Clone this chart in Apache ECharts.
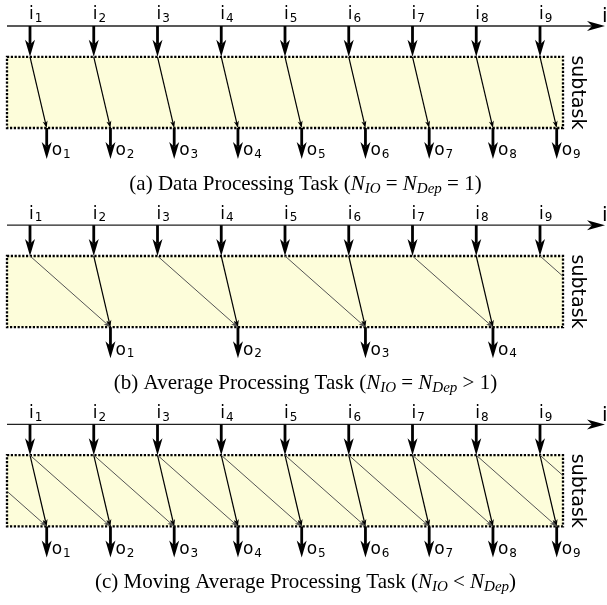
<!DOCTYPE html>
<html><head><meta charset="utf-8">
<script src="https://cdn.jsdelivr.net/npm/echarts@6/dist/echarts.min.js"></script>
<style>html,body{margin:0;padding:0;background:#fff}#c{width:607px;height:605px}</style>
</head><body><div id="c"></div>
<script>
// ================= DATA =================
// input slots on the time axis and their subscripts
const inputSlots  = [1, 2, 3, 4, 5, 6, 7, 8, 9];
const inputLabels = ['1', '2', '3', '4', '5', '6', '7', '8', '9'];
// output slots (input slot after which each output is produced)
const outputsA = [1, 2, 3, 4, 5, 6, 7, 8, 9];
const outputsB = [2, 4, 6, 8];
const outputsC = [1, 2, 3, 4, 5, 6, 7, 8, 9];
// dependencies: [input slot, output slot, 1 = direct / 0 = carried]
const depsA = [[1,1,1],[2,2,1],[3,3,1],[4,4,1],[5,5,1],[6,6,1],[7,7,1],[8,8,1],[9,9,1]];
const depsB = [[1,2,0],[2,2,1],[3,4,0],[4,4,1],[5,6,0],[6,6,1],[7,8,0],[8,8,1],[9,10,0]];
const depsC = [[0,1,0],[1,1,1],[1,2,0],[2,2,1],[2,3,0],[3,3,1],[3,4,0],[4,4,1],[4,5,0],
               [5,5,1],[5,6,0],[6,6,1],[6,7,0],[7,7,1],[7,8,0],[8,8,1],[8,9,0],[9,9,1],[9,10,0]];
const axisLabel = 'i';
const boxLabel = 'subtask';
// captions as [style, text] segments (n = italic, s = italic subscript)
const captionA = [['t','(a) Data Processing Task ('],['n','N'],['s','IO'],['t',' = '],['n','N'],['s','Dep'],['t',' = 1)']];
const captionB = [['t','(b) Average Processing Task ('],['n','N'],['s','IO'],['t',' = '],['n','N'],['s','Dep'],['t',' > 1)']];
const captionC = [['t','(c) Moving Average Processing Task ('],['n','N'],['s','IO'],['t',' < '],['n','N'],['s','Dep'],['t',')']];

// ================= LAYOUT =================
const SLOT_PX = 63.75, FIRST_PX = 30, W = 607, H = 605;
const X_MIN = 1 - FIRST_PX / SLOT_PX, X_MAX = X_MIN + W / SLOT_PX;
const OUT_SHIFT = 16.7 / SLOT_PX;
const BOX_L = 1 - 23 / SLOT_PX, BOX_R = 9 + 23 / SLOT_PX, AXIS_TIP = 9 + 65 / SLOT_PX;
const PANEL_STEP = 199.2, AXIS_Y0 = 26;
const DY = { boxTop: 30.8, boxBot: 102, outTip: 133, inLabel: -11, outLabel: 125, caption: 158 };
const panels = [
  { outputs: outputsA, deps: depsA, caption: captionA },
  { outputs: outputsB, deps: depsB, caption: captionB },
  { outputs: outputsC, deps: depsC, caption: captionC }
];

const SANS = '"DejaVu Sans", sans-serif';
const SERIF = '"Liberation Serif", "Times New Roman", serif';
const labelRich = {
  m: { fontFamily: SANS, fontSize: 17, fill: '#000', verticalAlign: 'middle' },
  d: { fontFamily: SANS, fontSize: 12, fill: '#000', verticalAlign: 'middle', padding: [8, 0, 0, 1] }
};
const capRich = {
  t: { fontFamily: SERIF, fontSize: 21, fill: '#000', verticalAlign: 'middle' },
  n: { fontFamily: SERIF, fontSize: 21, fontStyle: 'italic', fill: '#000', verticalAlign: 'middle' },
  s: { fontFamily: SERIF, fontSize: 15, fontStyle: 'italic', fill: '#000', verticalAlign: 'middle', padding: [10, 0, 0, 0] }
};

// build mark list
const marks = [];
panels.forEach((P, p) => {
  marks.push({ kind: 'box', p });
  marks.push({ kind: 'axis', p });
  P.deps.forEach(d => marks.push({ kind: 'dep', p, from: d[0], to: d[1], strong: d[2] }));
  inputSlots.forEach((s, i) => marks.push({ kind: 'in', p, slot: s, label: inputLabels[i] }));
  P.outputs.forEach((s, i) => marks.push({ kind: 'out', p, slot: s, label: String(i + 1) }));
  marks.push({ kind: 'sub', p });
  marks.push({ kind: 'cap', p });
});

function head(tip, from, len, wid, color) {
  let dx = tip[0] - from[0], dy = tip[1] - from[1];
  const L = Math.hypot(dx, dy); dx /= L; dy /= L;
  const px = -dy, py = dx;
  const bx = tip[0] - dx * len, by = tip[1] - dy * len;
  const nx = tip[0] - dx * len * 0.72, ny = tip[1] - dy * len * 0.72;
  return {
    shape: { type: 'polygon', shape: { points: [tip, [bx + px * wid / 2, by + py * wid / 2], [nx, ny], [bx - px * wid / 2, by - py * wid / 2]] }, style: { fill: color, stroke: null } },
    notch: [nx, ny]
  };
}

function renderItem(params, api) {
  const m = marks[params.dataIndex];
  const ay = AXIS_Y0 + m.p * PANEL_STEP;
  const c = (x, y) => api.coord([x, y]);
  const children = [];
  if (m.kind === 'box') {
    const a = c(BOX_L, ay + DY.boxTop), b = c(BOX_R, ay + DY.boxBot);
    children.push({ type: 'rect', shape: { x: a[0], y: a[1], width: b[0] - a[0], height: b[1] - a[1] },
      style: { fill: '#fdfdda', stroke: '#000', lineWidth: 2.3, lineDash: [2.2, 1.6] } });
  } else if (m.kind === 'axis') {
    const a = c(BOX_L, ay), t = c(AXIS_TIP, ay);
    const h = head(t, a, 18, 10, '#000');
    children.push({ type: 'line', shape: { x1: a[0], y1: a[1], x2: h.notch[0], y2: h.notch[1] }, style: { stroke: '#222', lineWidth: 1.3 } });
    children.push(h.shape);
    children.push({ type: 'text', x: t[0] - 3, y: t[1] - 9, style: { text: axisLabel, font: '20px ' + SANS, fill: '#000', align: 'left', verticalAlign: 'middle' } });
  } else if (m.kind === 'dep') {
    let A = c(m.from, ay + DY.boxTop), B = c(m.to + OUT_SHIFT, ay + DY.boxBot);
    const L = c(BOX_L, 0)[0], R = c(BOX_R, 0)[0];
    let clipped = false;
    if (A[0] < L) { const t = (L - A[0]) / (B[0] - A[0]); A = [L, A[1] + t * (B[1] - A[1])]; }
    if (B[0] > R) { const t = (R - A[0]) / (B[0] - A[0]); B = [R, A[1] + t * (B[1] - A[1])]; clipped = true; }
    const col = m.strong ? '#000' : '#555';
    const lw = m.strong ? 1.2 : 1;
    if (clipped) {
      children.push({ type: 'line', shape: { x1: A[0], y1: A[1], x2: B[0], y2: B[1] }, style: { stroke: col, lineWidth: lw } });
    } else {
      const h = head(B, A, 7, 5, col);
      children.push({ type: 'line', shape: { x1: A[0], y1: A[1], x2: h.notch[0], y2: h.notch[1] }, style: { stroke: col, lineWidth: lw } });
      children.push(h.shape);
    }
  } else if (m.kind === 'in') {
    const a = c(m.slot, ay), t = c(m.slot, ay + DY.boxTop);
    const h = head(t, a, 17, 10, '#000');
    children.push({ type: 'line', shape: { x1: a[0], y1: a[1], x2: h.notch[0], y2: h.notch[1] }, style: { stroke: '#000', lineWidth: 2.8 } });
    children.push(h.shape);
    const lp = c(m.slot, ay + DY.inLabel);
    children.push({ type: 'text', x: lp[0] - 1, y: lp[1], style: { text: '{m|i}{d|' + m.label + '}', rich: labelRich, align: 'left', verticalAlign: 'middle' } });
  } else if (m.kind === 'out') {
    const a = c(m.slot + OUT_SHIFT, ay + DY.boxBot), t = c(m.slot + OUT_SHIFT, ay + DY.outTip);
    const h = head(t, a, 17, 10, '#000');
    children.push({ type: 'line', shape: { x1: a[0], y1: a[1], x2: h.notch[0], y2: h.notch[1] }, style: { stroke: '#000', lineWidth: 2.8 } });
    children.push(h.shape);
    const lp = c(m.slot + OUT_SHIFT, ay + DY.outLabel);
    children.push({ type: 'text', x: lp[0] + 5, y: lp[1], style: { text: '{m|o}{d|' + m.label + '}', rich: labelRich, align: 'left', verticalAlign: 'middle' } });
  } else if (m.kind === 'sub') {
    const pt = c(BOX_R, ay + (DY.boxTop + DY.boxBot) / 2);
    children.push({ type: 'text', x: pt[0] + 14, y: pt[1], rotation: -Math.PI / 2,
      style: { text: boxLabel, font: '19px ' + SANS, fill: '#000', align: 'center', verticalAlign: 'middle' } });
  } else if (m.kind === 'cap') {
    const pt = c((X_MIN + X_MAX) / 2, ay + DY.caption);
    const txt = panels[m.p].caption.map(s => '{' + s[0] + '|' + s[1] + '}').join('');
    children.push({ type: 'text', x: pt[0] + 2, y: pt[1], style: { text: txt, rich: capRich, align: 'center', verticalAlign: 'middle' } });
  }
  return { type: 'group', children };
}

const chart = echarts.init(document.getElementById('c'), null, { renderer: 'canvas' });
chart.setOption({
  backgroundColor: '#fff',
  animation: false,
  grid: { left: 0, right: 0, top: 0, bottom: 0 },
  xAxis: { type: 'value', min: X_MIN, max: X_MAX, show: false },
  yAxis: { type: 'value', min: 0, max: H, inverse: true, show: false },
  series: [{
    type: 'custom',
    coordinateSystem: 'cartesian2d',
    clip: false,
    silent: true,
    renderItem,
    data: marks.map((m, i) => [1, i % H])
  }]
});
</script></body></html>
